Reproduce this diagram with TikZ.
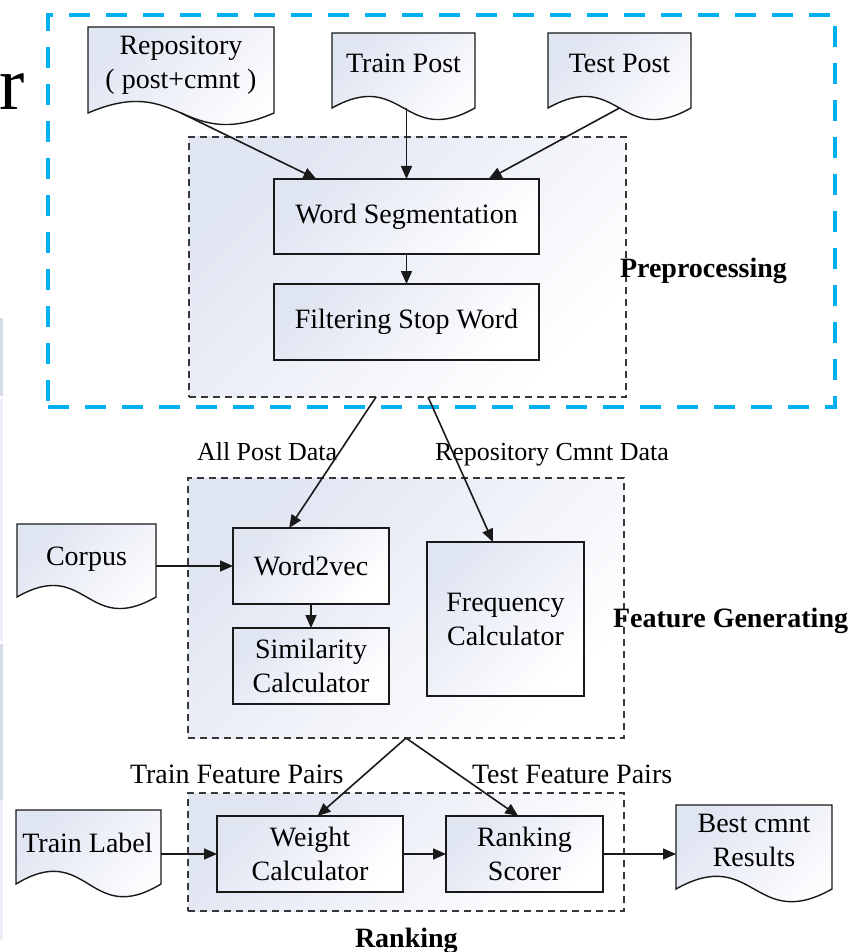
\documentclass[tikz,border=0pt]{standalone}
\usepackage{fontspec}
\setmainfont{Liberation Serif}
\usetikzlibrary{arrows.meta,calc}

\definecolor{frameblue}{RGB}{0,176,240}
\definecolor{boxtint}{RGB}{224,229,242}
\definecolor{edge}{RGB}{25,25,25}
\definecolor{dashgray}{RGB}{55,55,55}
\definecolor{stripedark}{RGB}{212,219,233}
\definecolor{stripelight}{RGB}{236,239,246}

\tikzset{
  x=1pt, y=-1pt,
  every node/.style={font=\fontsize{28}{34}\selectfont, inner sep=0pt, outer sep=0pt},
  tinted/.style={top color=boxtint, bottom color=white, shading angle=45},
  proc/.style={draw=edge, line width=1.4pt, tinted, rectangle, align=center},
  group/.style={draw=dashgray, line width=1.2pt, dash pattern=on 7pt off 5pt, tinted, rectangle},
  docbox/.style={rectangle},
  doctext/.style={align=center},
  smalllabel/.style={font=\fontsize{26}{32}\selectfont, anchor=base west},
  flowlabel/.style={anchor=base west},
  caption/.style={font=\fontsize{28}{34}\selectfont\bfseries, anchor=base west},
  flow/.style={draw=edge, line width=1.6pt, -{Triangle[length=13pt,width=11pt]}},
  focusframe/.style={draw=frameblue, line width=4pt, dash pattern=on 21pt off 16pt, rectangle},
}

% outline of a document symbol around a named node: flat top, wavy bottom
\newcommand\docoutline[2]{%
  \path[draw=edge, line width=1.4pt, tinted]
    (#1.north west) -- (#1.north east) -- (#1.south east)
    .. controls ($(#1.south)+(0,#2)$) and ($(#1.south)+(0,-#2)$) .. (#1.south west) -- cycle;}

\begin{document}
\begin{tikzpicture}
\useasboundingbox (0,0) rectangle (852,952);

% thin strips along the left edge
\fill[stripedark] (0,318) rectangle (3,396);
\fill[stripelight] (0,399) rectangle (3,641);
\fill[stripedark] (0,644) rectangle (3,800);
\fill[stripelight] (0,800) rectangle (3,940);

% large letter at the top left
\node[font=\fontsize{76}{80}\selectfont, anchor=base west] (bigr) at (-1,110) {r};

% highlighted region
\node[focusframe, minimum width=787pt, minimum height=392pt] (focus) at (441.5,211) {};

% stage groups
\node[group, minimum width=437pt, minimum height=260pt] (pre)  at (407.5,267) {};
\node[group, minimum width=436pt, minimum height=260pt] (feat) at (406,608) {};
\node[group, minimum width=436pt, minimum height=118pt] (rank) at (406,852) {};

% input / output documents
\node[docbox, minimum width=186pt, minimum height=86pt] (repo) at (181,70) {};
\docoutline{repo}{40}
\node[doctext] (repo-t) at (181,65.5) {Repository\\( post+cmnt )};

\node[docbox, minimum width=143pt, minimum height=75pt] (train) at (403.5,70.5) {};
\docoutline{train}{40}
\node[flowlabel, anchor=base] (train-t) at (403.5,73) {Train Post};

\node[docbox, minimum width=143pt, minimum height=75pt] (test) at (619.5,70.5) {};
\docoutline{test}{40}
\node[flowlabel, anchor=base] (test-t) at (619.5,73) {Test Post};

\node[docbox, minimum width=139pt, minimum height=73pt] (corpus) at (86.5,560.5) {};
\docoutline{corpus}{40}
\node[flowlabel, anchor=base] (corpus-t) at (86.5,565) {Corpus};

\node[docbox, minimum width=145pt, minimum height=74pt] (tlab) at (88.5,847) {};
\docoutline{tlab}{44}
\node[flowlabel, anchor=base] (tlab-t) at (87.5,852) {Train Label};

\node[docbox, minimum width=156pt, minimum height=84pt] (best) at (754,847) {};
\docoutline{best}{44}
\node[doctext] (best-t) at (754,840.5) {Best cmnt\\Results};

% processing steps
\node[proc, minimum width=265pt, minimum height=75pt] (ws)  at (406.5,216.5) {Word Segmentation};
\node[proc, minimum width=265pt, minimum height=76pt] (fsw) at (406.5,322) {Filtering Stop Word};

\node[proc, minimum width=156pt, minimum height=76pt] (w2v)  at (311,566) {Word2vec};
\node[proc, minimum width=156pt, minimum height=76pt] (sim)  at (311,666) {Similarity\\Calculator};
\node[proc, minimum width=157pt, minimum height=154pt] (freq) at (505.5,619) {Frequency\\Calculator};

\node[proc, minimum width=186pt, minimum height=76pt] (wc) at (310,854) {Weight\\Calculator};
\node[proc, minimum width=157pt, minimum height=76pt] (rs) at (524.5,854) {Ranking\\Scorer};

% stage captions
\node[caption] (cap-pre)  at (620,277) {Preprocessing};
\node[caption] (cap-feat) at (613,627) {Feature Generating};
\node[caption] (cap-rank) at (355,947) {Ranking};

% connector labels
\node[smalllabel] (lbl-all)  at (197,460) {All Post Data};
\node[smalllabel] (lbl-cmnt) at (435,460) {Repository Cmnt Data};
\node[flowlabel]  (lbl-trp)  at (130,783) {Train Feature Pairs};
\node[flowlabel]  (lbl-tep)  at (472,783) {Test Feature Pairs};

% connector end points on group borders
\coordinate (pre-a) at ($(pre.south west)!0.428!(pre.south east)$);
\coordinate (pre-b) at ($(pre.south west)!0.547!(pre.south east)$);

% flows
\draw[flow] (repo.south) -- ($(ws.north west)!0.16!(ws.north east)$);
\draw[flow] (ws.north |- train.south) -- (ws.north);
\draw[flow] (test.south) -- ($(ws.north west)!0.81!(ws.north east)$);
\draw[flow] (ws) -- (fsw);

\draw[flow] (pre-a) -- ($(w2v.north west)!0.36!(w2v.north east)$);
\draw[flow] (pre-b) -- ($(freq.north west)!0.42!(freq.north east)$);
\draw[flow] (corpus.east |- w2v.west) -- (w2v.west);
\draw[flow] (w2v) -- (sim);

\draw[flow] (feat.south) -- ($(wc.north west)!0.54!(wc.north east)$);
\draw[flow] (feat.south) -- ($(rs.north west)!0.46!(rs.north east)$);
\draw[flow] (tlab.east |- wc.west) -- (wc.west);
\draw[flow] (wc) -- (rs);
\draw[flow] (rs.east) -- (rs.east -| best.west);
\end{tikzpicture}
\end{document}
